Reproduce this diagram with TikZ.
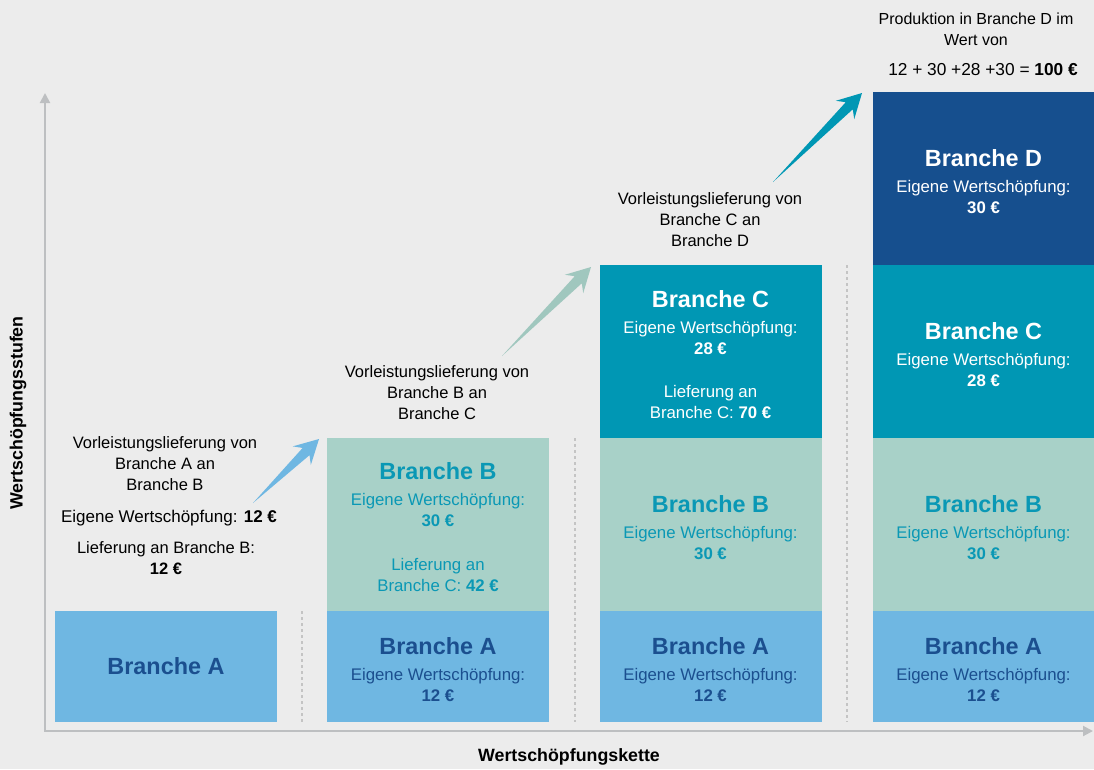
\documentclass[tikz,border=0pt]{standalone}
\usepackage{fontspec}
\setmainfont{Liberation Sans}
\usetikzlibrary{arrows.meta,positioning,calc}

\definecolor{bggray}{HTML}{ECECEC}
\definecolor{axisgray}{HTML}{BDBFC1}
\definecolor{dashgray}{HTML}{C4C4C4}
\definecolor{brancheA}{HTML}{6FB7E2}
\definecolor{brancheB}{HTML}{A8D1C8}
\definecolor{brancheC}{HTML}{0097B4}
\definecolor{brancheD}{HTML}{164F8E}
\definecolor{textA}{HTML}{1B4F8F}
\definecolor{textB}{HTML}{0A98B5}

\tikzset{
  stufe/.style={
    rectangle, inner sep=0pt,
    minimum width=222pt, align=center,
    font=\fontsize{16.8}{21}\selectfont
  },
  stufeA/.style={stufe, fill=brancheA, text=textA, minimum height=111pt},
  stufeB/.style={stufe, fill=brancheB, text=textB, minimum height=172.5pt},
  stufeC/.style={stufe, fill=brancheC, text=white, minimum height=172.5pt},
  stufeD/.style={stufe, fill=brancheD, text=white, minimum height=172.5pt},
  anno/.style={
    align=center, inner sep=0pt, text=black,
    font=\fontsize{16.5}{21}\selectfont
  },
  achse/.style={
    draw=axisgray, line width=2pt,
    {Triangle[length=10pt,width=10pt]}-{Triangle[length=10pt,width=10pt]}
  },
  achsentext/.style={font=\fontsize{17.8}{20}\selectfont\bfseries, inner sep=0pt},
  trenner/.style={draw=dashgray, line width=1.3pt, dash pattern=on 3pt off 3pt},
}

% heading line inside a box (strut keeps the block a little lower)
\newcommand{\kopf}[1]{{\fontsize{23.4}{26}\selectfont\bfseries\rule{0pt}{23pt}#1}}
% tapered arrow from tail (#2) to tip (#3)
\newcommand{\taperarrow}[3]{%
  \fill[#1] (#2)
    -- ($(#3)!18pt!(#2)!5pt!90:(#2)$)
    -- ($(#3)!24pt!(#2)!13pt!90:(#2)$)
    -- (#3)
    -- ($(#3)!24pt!(#2)!13pt!-90:(#2)$)
    -- ($(#3)!18pt!(#2)!5pt!-90:(#2)$)
    -- cycle;}

\begin{document}
\begin{tikzpicture}[x=1pt, y=-1pt]

  % ── Canvas ───────────────────────────────────────────────────────────────
  \fill[bggray] (0,0) rectangle (1094,769);
  \useasboundingbox (0,0) rectangle (1094,769);

  % ── Column positions ─────────────────────────────────────────────────────
  \def\colA{166}
  \def\colB{438}
  \def\colC{710.5}
  \def\colD{983.5}
  \def\rowA{666.5}

  % ── Axes ─────────────────────────────────────────────────────────────────
  \coordinate (ursprung) at (45,731);
  \coordinate (yende)    at (45,93);
  \coordinate (xende)    at (1093,731);
  \draw[achse] (yende) -- (ursprung) -- (xende);

  \node[achsentext, rotate=90] (ylab) at (18,413) {Wertschöpfungsstufen};
  \node[achsentext] (xlab) at (569,757) {Wertschöpfungskette};

  % ── Separators ───────────────────────────────────────────────────────────
  \draw[trenner] (302,611) -- (302,722);
  \draw[trenner] (575,438) -- (575,722);
  \draw[trenner] (847,265) -- (847,722);

  % ── Stage 1 ──────────────────────────────────────────────────────────────
  \node[stufeA] (a1) at (\colA,\rowA)
    {{\fontsize{23.4}{26}\selectfont\bfseries Branche A}};

  \node[anno] (ann1) at (165,464)
    {Vorleistungslieferung von\\Branche A an\\Branche B};
  \node[anno, font=\fontsize{17}{21}\selectfont] (eigen1) at (169,518)
    {Eigene Wertschöpfung: \textbf{12 €}};
  \node[anno] (lief1) at (166,558) {Lieferung an Branche B:\\\textbf{12 €}};

  % ── Stage 2 ──────────────────────────────────────────────────────────────
  \node[stufeA] (a2) at (\colB,\rowA)
    {\kopf{Branche A}\\[5pt]Eigene Wertschöpfung:\\\textbf{12 €}};
  \node[stufeB, above=0pt of a2] (b2)
    {\kopf{Branche B}\\[5pt]Eigene Wertschöpfung:\\\textbf{30 €}\\[23pt]
     Lieferung an\\Branche C: \textbf{42 €}};

  \node[anno] (ann2) at (437,393)
    {Vorleistungslieferung von\\Branche B an\\Branche C};

  % ── Stage 3 ──────────────────────────────────────────────────────────────
  \node[stufeA] (a3) at (\colC,\rowA)
    {\kopf{Branche A}\\[5pt]Eigene Wertschöpfung:\\\textbf{12 €}};
  \node[stufeB, above=0pt of a3] (b3)
    {\kopf{Branche B}\\[5pt]Eigene Wertschöpfung:\\\textbf{30 €}};
  \node[stufeC, above=0pt of b3] (c3)
    {\kopf{Branche C}\\[5pt]Eigene Wertschöpfung:\\\textbf{28 €}\\[22pt]
     Lieferung an\\Branche C: \textbf{70 €}};

  \node[anno] (ann3) at (710,220)
    {Vorleistungslieferung von\\Branche C an\\Branche D};

  % ── Stage 4 ──────────────────────────────────────────────────────────────
  \node[stufeA] (a4) at (\colD,\rowA)
    {\kopf{Branche A}\\[5pt]Eigene Wertschöpfung:\\\textbf{12 €}};
  \node[stufeB, above=0pt of a4] (b4)
    {\kopf{Branche B}\\[5pt]Eigene Wertschöpfung:\\\textbf{30 €}};
  \node[stufeC, above=0pt of b4] (c4)
    {\kopf{Branche C}\\[5pt]Eigene Wertschöpfung:\\\textbf{28 €}};
  \node[stufeD, above=0pt of c4] (d4)
    {\kopf{Branche D}\\[5pt]Eigene Wertschöpfung:\\\textbf{30 €}};

  \node[anno, font=\fontsize{16}{21}\selectfont] (ann4) at (976,29)
    {Produktion in Branche D im\\Wert von};
  \node[anno, font=\fontsize{17.3}{21}\selectfont] (summe) at (983,70)
    {12 + 30 +28 +30 = \textbf{100 €}};

  % ── Delivery arrows ──────────────────────────────────────────────────────
  \coordinate (p1s) at (253,503);  \coordinate (p1e) at (319,439);
  \coordinate (p2s) at (502,356);  \coordinate (p2e) at (591,267);
  \coordinate (p3s) at (773,182);  \coordinate (p3e) at (862,93);
  \taperarrow{brancheA}{p1s}{p1e}
  \taperarrow{brancheB!95!black}{p2s}{p2e}
  \taperarrow{brancheC}{p3s}{p3e}

\end{tikzpicture}
\end{document}
